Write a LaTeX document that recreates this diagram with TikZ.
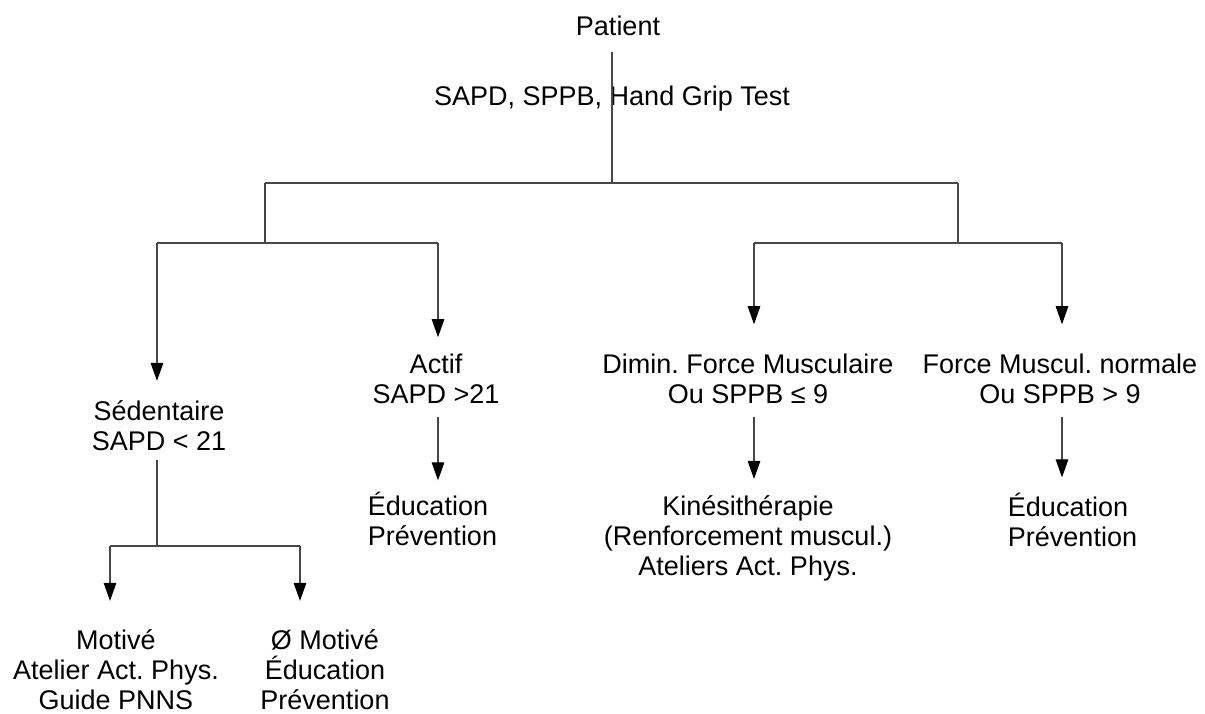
\documentclass[tikz,border=0pt]{standalone}
\usepackage{fontspec}
\setmainfont{Liberation Sans}
\frenchspacing
\usetikzlibrary{arrows.meta}
\begin{document}
\begin{tikzpicture}[x=1pt,y=-1pt,
  txt/.style={inner sep=0pt, outer sep=0pt, anchor=base, align=center,
    font=\fontsize{27}{30}\selectfont,
    execute at begin node=\vphantom{É}, execute at end node=\vphantom{y}},
  txtl/.style={txt, align=left},
  ln/.style={draw=black!72, line width=1.2pt},
  arr/.style={ln, -{Triangle[width=12.5pt,length=18pt,color=black]}}]
\useasboundingbox[fill=white] (0,0) rectangle (1205,713);

% text nodes (base anchor = baseline of the last line)
\node[txt] (patient) at (618,35) {Patient};
\node[txt] (tests) at (612,105) {SAPD, SPPB, Hand Grip Test};
\node[txt] (sed) at (159,450) {Sédentaire\\SAPD < 21};
\node[txt] (actif) at (436,403) {Actif\\SAPD >21};
\node[txt] (dimin) at (748,403) {Dimin. Force Musculaire\\Ou SPPB ≤ 9};
\node[txt] (force) at (1060,403) {Force Muscul. normale\\Ou SPPB > 9};
\node[txtl] (eduA) at (432.5,545) {Éducation\\Prévention};
\node[txt] (kine) at (748,575) {Kinésithérapie\\(Renforcement muscul.)\\Ateliers Act. Phys.};
\node[txtl] (eduF) at (1072.5,546) {Éducation\\Prévention};
\node[txt] (motive) at (116,709) {Motivé\\Atelier Act. Phys.\\Guide PNNS};
\node[txt] (nonmot) at (325,709) {Ø Motivé\\Éducation\\Prévention};

% junctions
\coordinate (jtop) at (612,183);
\coordinate (jTL) at (265,183);
\coordinate (jTR) at (958,183);
\coordinate (jL) at (265,243);
\coordinate (jR) at (958,243);
\coordinate (aS) at (157,243);
\coordinate (aA) at (438,243);
\coordinate (aD) at (754,243);
\coordinate (aF) at (1062,243);
\coordinate (jS) at (157,546);
\coordinate (aM) at (110,546);
\coordinate (aN) at (300,546);

% connectors
\draw[ln, shorten <=11.3pt] (patient.south -| jtop) -- (jtop);
\draw[ln] (jTL) -- (jTR);
\draw[ln] (jTL) -- (jL);
\draw[ln] (jTR) -- (jR);
\draw[ln] (aS) -- (aA);
\draw[ln] (aD) -- (aF);
\draw[arr, shorten >=19.2pt] (aS) -- (aS |- sed.north);
\draw[arr, shorten >=16.2pt] (aA) -- (aA |- actif.north);
\draw[arr, shorten >=29.2pt] (aD) -- (aD |- dimin.north);
\draw[arr, shorten >=29.2pt] (aF) -- (aF |- force.north);
\draw[arr, shorten <=8.3pt, shorten >=11.2pt] (aA |- actif.south) -- (aA |- eduA.north);
\draw[arr, shorten <=8.3pt, shorten >=16.2pt] (aD |- dimin.south) -- (aD |- kine.north);
\draw[arr, shorten <=8.3pt, shorten >=15.2pt] (aF |- force.south) -- (aF |- eduF.north);
\draw[ln, shorten <=4.3pt] (jS |- sed.south) -- (jS);
\draw[ln] (aM) -- (aN);
\draw[arr, shorten >=28.2pt] (aM) -- (aM |- motive.north);
\draw[arr, shorten >=28.2pt] (aN) -- (aN |- nonmot.north);
\end{tikzpicture}
\end{document}
